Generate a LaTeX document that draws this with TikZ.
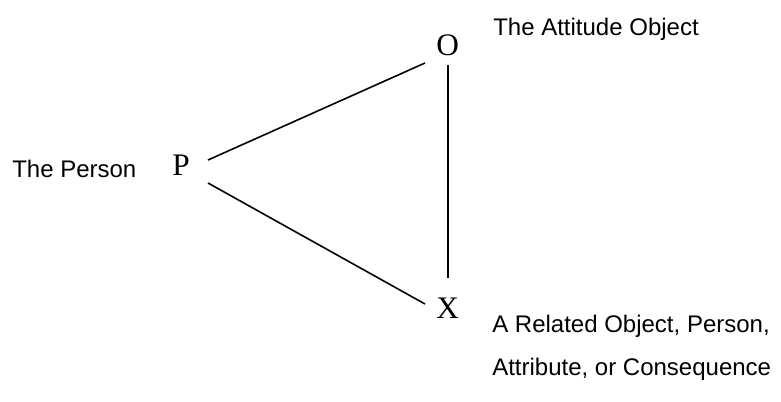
\documentclass[tikz,border=0pt]{standalone}
\usepackage{fontspec}
\setmainfont{Liberation Serif}
\newfontfamily\labelfont{Liberation Sans}
\begin{document}
\begin{tikzpicture}[x=0.75pt,y=-0.75pt,
  letter/.style={inner sep=0pt,anchor=base west,font=\fontsize{23.5}{25}\selectfont},
  caption/.style={inner sep=0pt,anchor=base west,font=\labelfont\fontsize{18}{20}\selectfont},
  link/.style={line width=1.2pt}]
\useasboundingbox (0,0) rectangle (781,401);
% letters
\node[letter] (P) at (172,175) {P};
\node[letter] (O) at (436,55) {O};
\node[letter] (X) at (436,318) {X};
% captions
\node[caption] (lp) at (12,177) {The Person};
\node[caption] (lo) at (493,35) {The Attitude Object};
\node[caption] (lx1) at (492,332) {A Related Object, Person,};
\node[caption] (lx2) at (492,375) {Attribute, or Consequence};
% connector end points
\coordinate (po) at (208,160);
\coordinate (op) at (425,63);
\coordinate (ot) at (448,65);
\coordinate (xt) at (448,278);
\coordinate (px) at (208,183);
\coordinate (xp) at (425,304);
\draw[link] (po) -- (op);
\draw[link] (ot) -- (xt);
\draw[link] (px) -- (xp);
\end{tikzpicture}
\end{document}
